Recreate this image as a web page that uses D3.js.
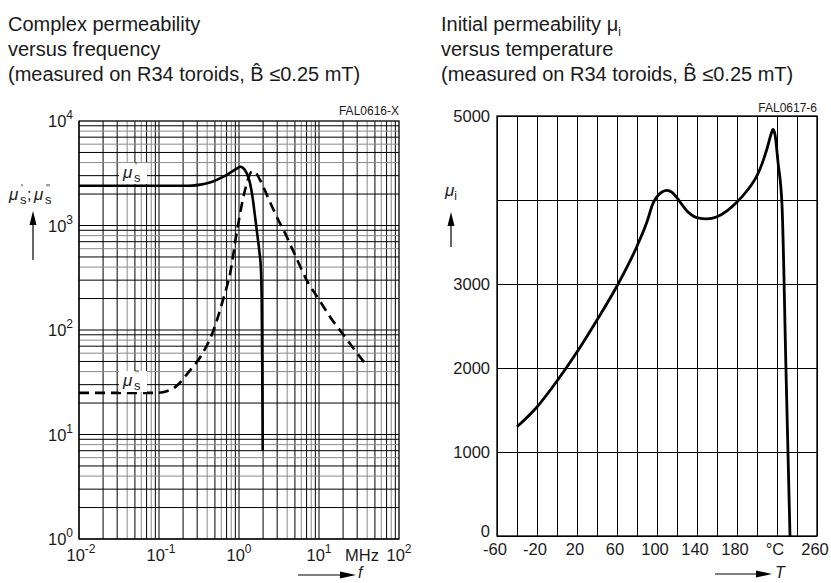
<!DOCTYPE html>
<html>
<head>
<meta charset="utf-8">
<script src="https://cdn.jsdelivr.net/npm/d3@7"></script>
<style>
html,body{margin:0;padding:0;background:#fff;}
text{font-family:"Liberation Sans",Arial,Helvetica,sans-serif;fill:#1a1a1a;}
</style>
</head>
<body>
<script>
// ---------- DATA ----------
// Left chart: complex permeability vs frequency (MHz)
const freqReal = [0.01, 0.1, 0.2, 0.26, 0.33, 0.42, 0.52, 0.65, 0.8, 0.95, 1.03, 1.12, 1.25, 1.37, 1.48, 1.58, 1.7, 1.8, 1.88, 1.92, 1.95, 1.98];
const muReal   = [2400, 2400, 2400, 2410, 2460, 2560, 2720, 2950, 3250, 3520, 3650, 3560, 3160, 2560, 1850, 1250, 800, 560, 380, 200, 50, 7];
const freqImag = [0.01, 0.05, 0.09, 0.125, 0.162, 0.237, 0.33, 0.464, 0.65, 0.776, 0.935, 1.19, 1.44, 1.55, 1.83, 2.48, 3.1, 3.6, 5, 7, 10, 13.7, 20, 30, 37.6];
const muImag   = [25, 25, 25, 26, 28.7, 40, 55.5, 93, 210, 351, 850, 2188, 3273, 3300, 2725, 1630, 1130, 906, 525, 301, 196, 134, 91, 60, 48];
const leftXDecades = [-2, -1, 0, 1, 2];
const leftYDecades = [0, 1, 2, 3, 4];

// Right chart: initial permeability vs temperature (°C)
const tempT = [-40, -20, 0, 20, 40, 60, 80, 90, 96, 100, 105, 110, 115, 120, 130, 140, 150, 160, 170, 180, 190, 195, 200, 205, 210, 214, 216, 218, 221, 225, 229, 233];
const muI   = [1300, 1536, 1845, 2190, 2571, 2976, 3450, 3740, 3960, 4040, 4095, 4115, 4090, 4025, 3870, 3790, 3775, 3800, 3870, 3975, 4110, 4190, 4290, 4430, 4610, 4780, 4840, 4780, 4450, 3940, 1970, 0];
const rightXTicks = [-60, -40, -20, 0, 20, 40, 60, 80, 100, 120, 140, 160, 180, 200, 220, 240, 260];
const rightXLabels = ["-60", "", "-20", "", "20", "", "60", "", "100", "", "140", "", "180", "", "°C", "", "260"];
const rightYTicks = [0, 1000, 2000, 3000, 4000, 5000];
const rightYLabels = ["0", "1000", "2000", "3000", "", "5000"];

// ---------- SETUP ----------
const W = 831, H = 583;
const svg = d3.select("body").append("svg").attr("width", W).attr("height", H);
const FONT = 16.5;

function arrowUp(x, y0, y1) { // y0 bottom, y1 tip
  svg.append("line").attr("x1", x).attr("x2", x).attr("y1", y0).attr("y2", y1 + 10)
    .attr("stroke", "#000").attr("stroke-width", 1.2);
  svg.append("path").attr("d", `M${x},${y1} L${x-3.5},${y1+14} L${x+3.5},${y1+14} Z`).attr("fill", "#000");
}
function arrowRight(x0, x1, y) {
  svg.append("line").attr("x1", x0).attr("x2", x1 - 10).attr("y1", y).attr("y2", y)
    .attr("stroke", "#000").attr("stroke-width", 1.2);
  svg.append("path").attr("d", `M${x1},${y} L${x1-16},${y-3.5} L${x1-16},${y+3.5} Z`).attr("fill", "#000");
}

// ---------- TITLES ----------
function title(x, lines) {
  const t = svg.append("g");
  lines.forEach((l, i) => {
    const tx = t.append("text").attr("x", x).attr("y", 31 + i * 25).attr("font-size", 20);
    l.forEach(part => {
      const ts = tx.append("tspan").text(part.t);
      if (part.sub) ts.attr("font-size", 12).attr("dy", 5);
    });
  });
}
title(8, [[{t: "Complex permeability"}], [{t: "versus frequency"}], [{t: "(measured on R34 toroids, B\u0302 \u22640.25 mT)"}]]);
title(441, [[{t: "Initial permeability \u03bc"}, {t: "i", sub: true}], [{t: "versus temperature"}], [{t: "(measured on R34 toroids, B\u0302 \u22640.25 mT)"}]]);

// ---------- LEFT CHART ----------
const xL = d3.scaleLog().domain([0.01, 100]).range([79, 399]);
const yL = d3.scaleLog().domain([1, 10000]).range([539, 121]);
const gray = "#8a8a8a";
const minorColor = k => (k === 4 || k === 6 || k === 8) ? gray : "#000";

const gL = svg.append("g");
leftXDecades.slice(0, -1).forEach(d => {
  for (let k = 1; k <= 9; k++) {
    const v = k * Math.pow(10, d);
    gL.append("line").attr("x1", xL(v)).attr("x2", xL(v)).attr("y1", yL(1)).attr("y2", yL(10000))
      .attr("stroke", minorColor(k)).attr("stroke-width", 1);
  }
});
leftYDecades.slice(0, -1).forEach(d => {
  for (let k = 1; k <= 9; k++) {
    const v = k * Math.pow(10, d);
    gL.append("line").attr("y1", yL(v)).attr("y2", yL(v)).attr("x1", xL(0.01)).attr("x2", xL(100))
      .attr("stroke", minorColor(k)).attr("stroke-width", 1);
  }
});
gL.append("rect").attr("x", xL(0.01)).attr("y", yL(10000)).attr("width", xL(100) - xL(0.01))
  .attr("height", yL(1) - yL(10000)).attr("fill", "none").attr("stroke", "#000").attr("stroke-width", 1.3);

const lineL = d3.line().x(d => xL(d[0])).y(d => yL(d[1])).curve(d3.curveMonotoneX);
gL.append("path").datum(freqImag.map((f, i) => [f, muImag[i]])).attr("d", lineL)
  .attr("fill", "none").attr("stroke", "#000").attr("stroke-width", 2.6).attr("stroke-dasharray", "10,6");
gL.append("path").datum(freqReal.map((f, i) => [f, muReal[i]])).attr("d", lineL)
  .attr("fill", "none").attr("stroke", "#000").attr("stroke-width", 2.6);

function muLabel(x, y, primes, box) {
  if (box) svg.append("rect").attr("x", x - 4).attr("y", y - 15).attr("width", 28).attr("height", 21).attr("fill", "#fff");
  svg.append("text").attr("x", x).attr("y", y).attr("font-size", 17).attr("font-style", "italic").text("\u03bc");
  svg.append("text").attr("x", x + 11).attr("y", y + 4).attr("font-size", 13).text("s");
  svg.append("text").attr("x", x + 12).attr("y", y - 8).attr("font-size", 10).text(primes);
}
muLabel(123, 178, "'", true);
muLabel(123, 386, "''", true);

muLabel(9, 200, "'", false);
svg.append("text").attr("x", 27).attr("y", 200).attr("font-size", 16).text(";");
muLabel(34, 200, "''", false);
arrowUp(33, 260, 211);

leftYDecades.forEach(d => {
  const t = svg.append("text").attr("x", 73).attr("y", yL(Math.pow(10, d)) + 6)
    .attr("text-anchor", "end").attr("font-size", FONT);
  t.append("tspan").text("10");
  t.append("tspan").attr("font-size", 12).attr("dy", -8).text(d);
});
leftXDecades.forEach(d => {
  const t = svg.append("text").attr("x", xL(Math.pow(10, d)) - 12.5).attr("y", 561).attr("font-size", FONT);
  t.append("tspan").text("10");
  t.append("tspan").attr("font-size", 12).attr("dy", -8).text(d);
});
svg.append("text").attr("x", 345).attr("y", 561).attr("font-size", FONT).text("MHz");
svg.append("text").attr("x", 399).attr("y", 115).attr("text-anchor", "end").attr("font-size", 12).text("FAL0616-X");
arrowRight(298, 356, 575);
svg.append("text").attr("x", 358).attr("y", 578).attr("font-size", 16).attr("font-style", "italic").text("f");

// ---------- RIGHT CHART ----------
const xR = d3.scaleLinear().domain([-60, 260]).range([497, 817]);
const yR = d3.scaleLinear().domain([0, 5000]).range([536, 116]);
const gR = svg.append("g");
gR.append("g").attr("transform", `translate(0,${yR(0)})`)
  .call(d3.axisBottom(xR).tickValues(rightXTicks).tickSize(-(yR(0) - yR(5000))).tickFormat(""))
  .call(g => g.select(".domain").remove())
  .call(g => g.selectAll("line").attr("stroke", "#000").attr("stroke-width", 1));
gR.append("g").attr("transform", `translate(${xR(-60)},0)`)
  .call(d3.axisLeft(yR).tickValues(rightYTicks).tickSize(-(xR(260) - xR(-60))).tickFormat(""))
  .call(g => g.select(".domain").remove())
  .call(g => g.selectAll("line").attr("stroke", "#000").attr("stroke-width", 1));
gR.append("rect").attr("x", xR(-60)).attr("y", yR(5000)).attr("width", xR(260) - xR(-60))
  .attr("height", yR(0) - yR(5000)).attr("fill", "none").attr("stroke", "#000").attr("stroke-width", 1.3);

const lineR = d3.line().x(d => xR(d[0])).y(d => yR(d[1])).curve(d3.curveMonotoneX);
gR.append("path").datum(tempT.map((t, i) => [t, muI[i]])).attr("d", lineR)
  .attr("fill", "none").attr("stroke", "#000").attr("stroke-width", 2.8);

rightXTicks.forEach((t, i) => {
  if (!rightXLabels[i]) return;
  svg.append("text").attr("x", xR(t) - 2).attr("y", 555).attr("text-anchor", "middle")
    .attr("font-size", FONT).text(rightXLabels[i]);
});
rightYTicks.forEach((v, i) => {
  if (!rightYLabels[i]) return;
  svg.append("text").attr("x", 490).attr("y", yR(v) + (v === 0 ? 1 : 6)).attr("text-anchor", "end")
    .attr("font-size", FONT).text(rightYLabels[i]);
});
svg.append("text").attr("x", 817).attr("y", 112).attr("text-anchor", "end").attr("font-size", 12).text("FAL0617-6");
const mi = svg.append("text").attr("x", 445).attr("y", 196).attr("font-size", 17).attr("font-style", "italic");
mi.append("tspan").text("\u03bc");
mi.append("tspan").attr("font-size", 12).attr("font-style", "normal").attr("dy", 4).text("i");
arrowUp(451, 247, 212);
arrowRight(715, 772, 574);
svg.append("text").attr("x", 775).attr("y", 578).attr("font-size", 16).attr("font-style", "italic").text("T");
</script>
</body>
</html>
